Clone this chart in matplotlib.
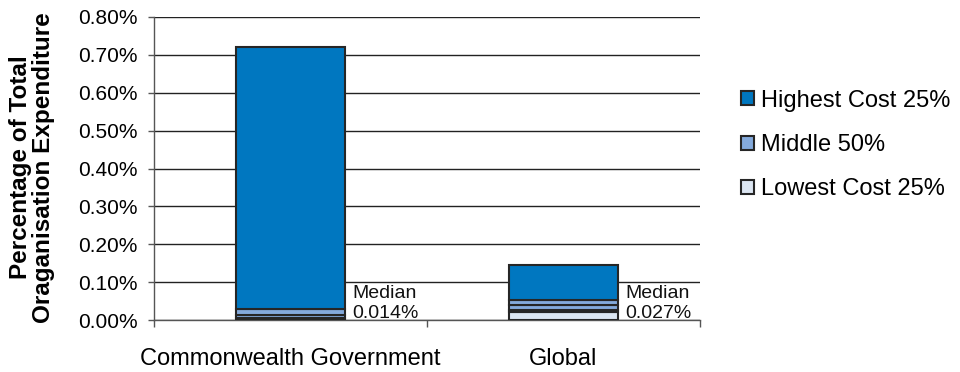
import matplotlib
matplotlib.use("Agg")
import matplotlib.pyplot as plt
from matplotlib.patches import Patch
from matplotlib.ticker import FuncFormatter, FixedLocator

plt.rcParams['font.family'] = ['Liberation Sans', 'DejaVu Sans']

# Spend as a percentage of total organisation expenditure
categories = ["Commonwealth Government", "Global"]
q1_values = [0.006, 0.021]          # top of lowest-cost quartile
middle_breaks = [[0.014], [0.027, 0.039]]   # internal divisions of the middle 50%
median_values = [0.014, 0.027]
q3_values = [0.030, 0.053]          # top of middle 50%
max_values = [0.72, 0.144]          # top of highest-cost quartile
median_labels = ["0.014%", "0.027%"]

series_names = ["Highest Cost 25%", "Middle 50%", "Lowest Cost 25%"]
y_ticks = [0.0, 0.1, 0.2, 0.3, 0.4, 0.5, 0.6, 0.7, 0.8]

col_high = "#0077c0"
col_mid = "#84aadc"
col_low = "#dce6f2"
edge = "#262626"

fig = plt.figure(figsize=(9.6, 3.72), dpi=100)
ax = fig.add_axes([154 / 960, 52 / 372, 546 / 960, 303 / 372])

width = 0.4
for i, cat in enumerate(categories):
    # lowest quartile
    ax.bar(i, q1_values[i], width, bottom=0, color=col_low, edgecolor=edge,
           linewidth=1.5, zorder=3)
    # middle 50%, split at its internal breaks
    bounds = [q1_values[i]] + middle_breaks[i] + [q3_values[i]]
    for lo, hi in zip(bounds[:-1], bounds[1:]):
        ax.bar(i, hi - lo, width, bottom=lo, color=col_mid, edgecolor=edge,
               linewidth=1.5, zorder=3)
    # highest quartile
    ax.bar(i, max_values[i] - q3_values[i], width, bottom=q3_values[i],
           color=col_high, edgecolor=edge, linewidth=1.5, zorder=3)
    # median annotation
    ax.text(i + width / 2 + 0.025, 0.058, "Median", fontsize=14,
            ha="left", va="baseline", color="#111111", zorder=4)
    ax.text(i + width / 2 + 0.025, 0.005, median_labels[i], fontsize=14,
            ha="left", va="baseline", color="#111111", zorder=4)

ax.set_xlim(-0.5, len(categories) - 0.5)
ax.set_ylim(0, 0.8)
ax.set_yticks(y_ticks)
ax.yaxis.set_major_formatter(FuncFormatter(lambda v, p: f"{v:.2f}%"))
ax.yaxis.grid(True, color="#222222", linewidth=1.0, zorder=0)
ax.set_axisbelow(True)

# category ticks sit between the bars; labels go under each bar
ax.xaxis.set_major_locator(FixedLocator([-0.5, 0.5, 1.5]))
ax.xaxis.set_minor_locator(FixedLocator(range(len(categories))))
ax.set_xticklabels([], minor=False)
ax.set_xticklabels(categories, minor=True)
ax.tick_params(axis="x", which="major", length=5, width=1, color="#555555",
               direction="out")
ax.tick_params(axis="x", which="minor", length=0, pad=20, labelsize=17)
ax.tick_params(axis="y", length=4, width=1, color="#555555", direction="out",
               pad=8, labelsize=15)

for s in ("top", "right"):
    ax.spines[s].set_visible(False)
for s in ("left", "bottom"):
    ax.spines[s].set_color("#555555")
    ax.spines[s].set_linewidth(1.0)

fig.text(32 / 960, 0.55, "Percentage of Total\nOraganisation Expenditure",
         rotation=90, ha="center", va="center", fontsize=17.5,
         fontweight="bold", linespacing=1.05, multialignment="center")

handles = [Patch(facecolor=c, edgecolor=edge, linewidth=1.5)
           for c in (col_high, col_mid, col_low)]
fig.legend(handles, series_names, loc="center left",
           bbox_to_anchor=(741 / 960, (372 - 145) / 372), frameon=False,
           fontsize=17, handlelength=0.55, handleheight=0.55,
           handletextpad=0.3, labelspacing=0.95, borderpad=0,
           borderaxespad=0)

fig.savefig("out.png", dpi=100)
